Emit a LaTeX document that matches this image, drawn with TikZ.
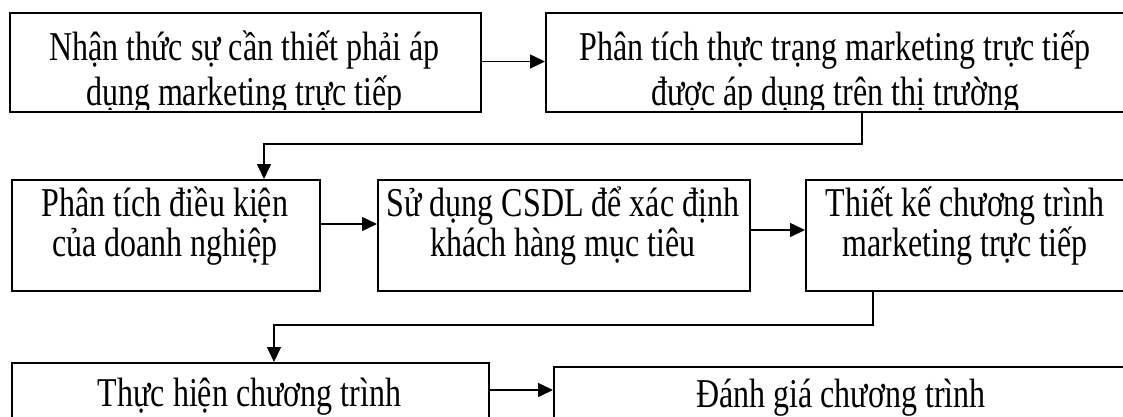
\documentclass[tikz,border=0pt]{standalone}
\usepackage{fontspec}
\usepackage{graphicx}
\setmainfont{Liberation Serif}
\usetikzlibrary{arrows.meta}
\newcommand\tallt[1]{\scalebox{1}[1.28]{#1}}
\begin{document}
\begin{tikzpicture}[x=1pt,y=-1pt,
  box/.style={draw, line width=1.5pt, inner sep=0pt, anchor=north west},
  txt/.style={anchor=base, inner sep=0pt, font=\fontsize{32}{38}\selectfont},
  arr/.style={line width=1.5pt, -{Triangle[length=15pt,width=14pt]}}]
\useasboundingbox (0,0) rectangle (1123,416);
% boxes
\node[box, minimum width=471pt, minimum height=99pt] (b1) at (9,12) {};
\node[box, minimum width=585pt, minimum height=99pt] (b2) at (545,12) {};
\node[box, minimum width=308pt, minimum height=111pt] (b3) at (11,179) {};
\node[box, minimum width=372pt, minimum height=111pt] (b4) at (377,179) {};
\node[box, minimum width=325pt, minimum height=111pt] (b5) at (805,179) {};
\node[box, minimum width=477pt, minimum height=80pt] (b6) at (11,362) {};
\node[box, minimum width=577pt, minimum height=76pt] (b7) at (553,366) {};
% texts, row 1 (second line clipped by the box)
\begin{scope}
\clip (0,0) rectangle (1123,109.5);
\node[txt] (t1a) at (244.5,60) {\tallt{Nhận thức sự cần thiết phải áp}};
\node[txt] (t1b) at (244.5,105) {\tallt{dụng marketing trực tiếp}};
\node[txt] (t2a) at (835,60) {\tallt{Phân tích thực trạng marketing trực tiếp}};
\node[txt] (t2b) at (835,105) {\tallt{được áp dụng trên thị trường}};
\end{scope}
\node[txt] (t3a) at (165,216) {\tallt{Phân tích điều kiện}};
\node[txt] (t3b) at (165,256) {\tallt{của doanh nghiệp}};
\node[txt] (t4a) at (563,216) {\tallt{Sử dụng CSDL để xác định}};
\node[txt] (t4b) at (563,256) {\tallt{khách hàng mục tiêu}};
\node[txt] (t5a) at (965,216) {\tallt{Thiết kế chương trình}};
\node[txt] (t5b) at (965,256) {\tallt{marketing trực tiếp}};
\node[txt] (t6) at (249.5,406) {\tallt{Thực hiện chương trình}};
\node[txt] (t7) at (841,407) {\tallt{Đánh giá chương trình}};
% helper coordinates
\coordinate (r1) at (0,61.5);
\coordinate (r2a) at (0,224);
\coordinate (r2b) at (0,230);
\coordinate (r3) at (0,390);
\coordinate (k1) at (862,144);
\coordinate (k2) at (264,144);
\coordinate (k3) at (873,325);
\coordinate (k4) at (274,325);
% connectors
\draw[arr] (b1.east |- r1) -- (b2.west |- r1);
\draw[arr] (b2.south -| k1) -- (k1) -- (k2) -- (b3.north -| k2);
\draw[arr] (b3.east |- r2a) -- (b4.west |- r2a);
\draw[arr] (b4.east |- r2b) -- (b5.west |- r2b);
\draw[arr] (b5.south -| k3) -- (k3) -- (k4) -- (b6.north -| k4);
\draw[arr] (b6.east |- r3) -- (b7.west |- r3);
\end{tikzpicture}
\end{document}
